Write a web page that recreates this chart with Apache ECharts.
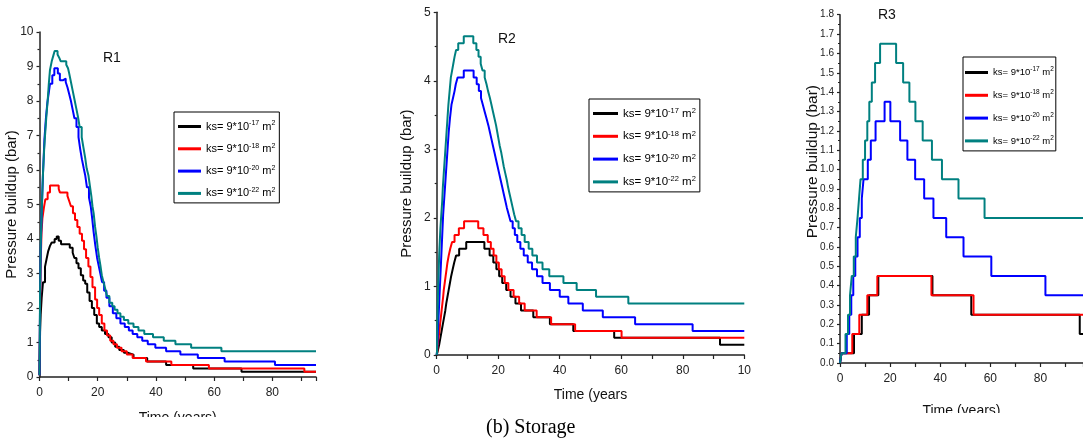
<!DOCTYPE html>
<html>
<head>
<meta charset="utf-8">
<script src="https://cdn.jsdelivr.net/npm/echarts@6/dist/echarts.min.js"></script>
<style>html,body{margin:0;padding:0;background:#fff}#c{width:1083px;height:443px}</style>
</head>
<body>
<div id="c"></div>
<script>
// ---- categories / labels ----
const exps = ['-17', '-18', '-20', '-22'];
const seriesNames = exps.map(e => 'ks= 9*10^' + e + ' m^2');
const colors = ['#000000', '#ff0000', '#0000ff', '#008080'];
const panelTitles = ['R1', 'R2', 'R3'];
const r2XLabels = {0: '0', 20: '20', 40: '40', 60: '60', 80: '80', 100: '10'};

// ---- R1 (step points: [time, level]) ----
const r1Black = [[0,0.05],[0.1,0.8],[0.2,1.3],[0.4,1.8],[0.75,2.3],[1.2,2.75],[1.9,3.2],[2.5,3.45],[3.0,3.65],[3.6,3.8],[4.2,3.9],[5.2,4.0],[5.9,4.07],[6.6,3.95],[7.4,3.85],[10.4,3.75],[11.4,3.6],[12.0,3.45],[12.7,3.3],[13.4,3.15],[14.2,2.95],[15.0,2.8],[15.7,2.7],[16.4,2.45],[17.2,2.2],[18.0,2.0],[18.8,1.8],[19.7,1.55],[20.5,1.45],[21.4,1.35],[22.5,1.25],[23.7,1.15],[24.8,1.0],[26.0,0.88],[27.4,0.78],[29.0,0.7],[30.5,0.65],[32.3,0.55],[37.0,0.45],[43.5,0.35],[52.8,0.25],[69.4,0.15],[95,0.15]];
const r1Red = [[0,0.05],[0.2,2.0],[0.4,3.3],[0.7,4.2],[1.0,4.6],[1.5,4.9],[2.0,5.15],[2.8,5.35],[3.6,5.55],[6.6,5.45],[7.0,5.35],[9.6,5.25],[10.2,5.1],[10.8,4.95],[11.5,4.75],[12.2,4.55],[13.0,4.35],[13.8,4.15],[14.6,3.95],[15.3,3.7],[16.0,3.45],[16.8,3.2],[17.5,2.9],[18.2,2.6],[19.1,2.25],[19.8,2.0],[20.5,1.8],[21.4,1.55],[22.3,1.35],[23.2,1.2],[24.3,1.05],[25.4,0.95],[26.6,0.85],[28.2,0.75],[30.0,0.65],[32.0,0.55],[36.6,0.45],[45.3,0.35],[58.2,0.25],[91,0.15],[95,0.15]];
const r1Blue = [[0,0.05],[0.2,2.3],[0.4,3.6],[0.8,4.9],[1.2,5.9],[1.7,6.9],[2.2,7.5],[2.7,7.95],[3.2,8.25],[3.6,8.5],[4.4,8.75],[5.1,8.95],[6.3,8.8],[7.0,8.6],[8.0,8.65],[9.0,8.55],[9.6,8.4],[10.2,8.2],[10.8,8.0],[11.4,7.75],[12.0,7.5],[12.7,7.25],[13.4,6.95],[14.0,6.6],[14.6,6.3],[15.2,6.05],[15.7,5.85],[16.3,5.5],[17.0,5.2],[17.6,4.95],[18.1,4.6],[18.6,4.2],[19.2,3.8],[19.8,3.45],[20.4,3.2],[20.9,3.0],[21.5,2.75],[22.2,2.5],[23.0,2.3],[24.0,2.05],[25.2,1.85],[26.4,1.7],[27.8,1.55],[29.3,1.45],[30.7,1.35],[32.0,1.25],[33.6,1.15],[35.3,1.05],[37.2,0.95],[39.8,0.85],[43.5,0.75],[48.4,0.65],[54.4,0.55],[63.6,0.45],[80.9,0.35],[95,0.35]];
const r1Teal = [[0,0.05],[0.2,2.5],[0.4,3.8],[0.8,4.9],[1.2,5.9],[1.6,6.6],[1.9,7.0],[2.4,7.6],[2.8,8.0],[3.2,8.5],[3.6,8.9],[4.2,9.15],[4.8,9.33],[5.2,9.45],[6.2,9.35],[6.8,9.25],[7.3,9.15],[9.2,9.05],[9.8,8.95],[10.2,8.8],[10.8,8.55],[11.4,8.3],[12.0,8.05],[12.6,7.8],[13.2,7.55],[13.8,7.25],[14.5,6.95],[15.1,6.65],[15.7,6.35],[16.2,6.05],[16.8,5.85],[17.3,5.55],[17.8,5.25],[18.2,4.95],[18.6,4.75],[19.1,4.35],[19.6,4.05],[20.0,3.75],[20.5,3.45],[20.9,3.25],[21.4,2.95],[22.0,2.75],[22.6,2.55],[23.2,2.35],[24.0,2.15],[25.0,2.05],[25.8,1.95],[26.8,1.85],[27.8,1.75],[29.0,1.65],[30.5,1.55],[32.3,1.45],[34.0,1.35],[36.0,1.25],[39.0,1.15],[42.7,1.05],[46.7,0.95],[52.1,0.85],[62.5,0.75],[95,0.75]];

// ---- R2 ----
const r2Black = [[0,0],[0.3,0.05],[0.8,0.15],[1.2,0.25],[1.6,0.35],[2.0,0.45],[2.4,0.55],[2.8,0.65],[3.1,0.75],[3.5,0.85],[3.9,0.95],[4.3,1.05],[4.7,1.15],[5.2,1.25],[5.7,1.35],[6.3,1.45],[7.3,1.55],[9.6,1.65],[15.5,1.55],[17.2,1.45],[18.4,1.35],[19.4,1.25],[20.3,1.15],[21.3,1.05],[22.6,0.95],[24.0,0.85],[25.6,0.75],[27.4,0.65],[31.4,0.55],[36.8,0.45],[44.4,0.35],[57.7,0.25],[92.1,0.15],[100,0.15]];
const r2Red = [[0,0],[0.2,0.05],[0.3,0.15],[0.6,0.25],[0.9,0.35],[1.1,0.45],[1.35,0.55],[1.6,0.65],[1.85,0.75],[2.1,0.85],[2.3,0.95],[2.6,1.05],[2.9,1.15],[3.2,1.25],[3.5,1.35],[3.9,1.45],[4.4,1.55],[5.0,1.65],[5.8,1.75],[7.2,1.85],[8.9,1.95],[13.5,1.85],[15.2,1.75],[16.6,1.65],[17.6,1.55],[18.5,1.45],[19.4,1.35],[20.2,1.25],[21.1,1.15],[22.1,1.05],[23.3,0.95],[25.0,0.85],[26.8,0.75],[28.6,0.65],[32.5,0.55],[37.2,0.45],[45.0,0.35],[60.1,0.25],[100,0.25]];
const r2Blue = [[0,0],[0.1,0.05],[0.3,0.25],[0.6,0.55],[0.9,0.85],[1.2,1.15],[1.5,1.45],[1.8,1.75],[2.1,2.05],[2.4,2.25],[2.7,2.45],[3.0,2.65],[3.3,2.85],[3.6,3.05],[3.9,3.25],[4.3,3.45],[4.8,3.65],[5.3,3.75],[5.8,3.85],[6.2,3.95],[6.8,4.05],[8.8,4.15],[12.0,4.05],[13.0,3.95],[13.7,3.85],[14.4,3.75],[15.0,3.65],[15.6,3.55],[16.2,3.45],[16.8,3.35],[17.3,3.25],[17.8,3.15],[18.3,3.05],[18.8,2.95],[19.3,2.85],[19.8,2.75],[20.3,2.65],[20.8,2.55],[21.3,2.45],[21.8,2.35],[22.3,2.25],[22.8,2.15],[23.4,2.05],[24.0,1.95],[24.7,1.85],[25.4,1.75],[26.2,1.65],[27.2,1.55],[28.3,1.45],[29.6,1.35],[31.0,1.25],[32.6,1.15],[34.4,1.05],[36.8,0.95],[40.0,0.85],[42.8,0.75],[47.5,0.65],[54.0,0.55],[64.5,0.45],[83.2,0.35],[100,0.35]];
const r2Teal = [[0,0],[0.1,0.05],[0.2,0.45],[0.4,0.85],[0.6,1.15],[0.8,1.45],[1.0,1.65],[1.2,1.85],[1.5,2.05],[1.8,2.25],[2.0,2.45],[2.3,2.65],[2.6,2.85],[2.9,3.05],[3.2,3.25],[3.5,3.45],[3.8,3.65],[4.2,3.85],[4.6,4.05],[5.0,4.15],[5.4,4.25],[5.8,4.35],[6.3,4.45],[7.0,4.55],[8.8,4.65],[11.9,4.55],[12.9,4.45],[13.6,4.35],[14.3,4.25],[14.9,4.15],[15.6,4.05],[16.2,3.95],[16.7,3.85],[17.3,3.75],[17.8,3.65],[18.3,3.55],[18.8,3.45],[19.3,3.35],[19.7,3.25],[20.1,3.15],[20.5,3.05],[21.0,2.95],[21.4,2.85],[21.8,2.75],[22.3,2.65],[22.8,2.55],[23.2,2.45],[23.7,2.35],[24.2,2.25],[24.7,2.15],[25.2,2.05],[25.8,1.95],[26.6,1.85],[27.6,1.75],[28.6,1.65],[29.9,1.55],[31.1,1.45],[32.6,1.35],[34.4,1.25],[36.6,1.15],[41.2,1.05],[45.5,0.95],[51.8,0.85],[62.3,0.75],[100,0.75]];

// ---- R3 ----
const r3Black = [[0,0],[0.6,0.05],[5.6,0.15],[8.7,0.25],[11.6,0.35],[15.3,0.45],[36.9,0.35],[52.4,0.25],[95.7,0.15],[97,0.15]];
const r3Red = [[0,0],[0.6,0.05],[4.9,0.15],[7.7,0.25],[10.9,0.35],[14.9,0.45],[36.5,0.35],[53.3,0.25],[97,0.25]];
const r3Blue = [[0,0],[0.6,0.05],[2.7,0.15],[3.7,0.25],[4.5,0.35],[5.3,0.45],[6.1,0.55],[7.0,0.65],[7.9,0.75],[8.7,0.85],[9.4,0.95],[11.1,1.05],[12.3,1.15],[14.2,1.25],[17.8,1.35],[20.1,1.25],[24.0,1.15],[26.9,1.05],[30.0,0.95],[33.6,0.85],[37.3,0.75],[42.4,0.65],[49.3,0.55],[60.4,0.45],[82.0,0.35],[97,0.35]];
const r3Teal = [[0,0],[0.6,0.05],[2.2,0.15],[3.2,0.25],[4.0,0.35],[4.7,0.45],[5.5,0.55],[6.3,0.65],[7.0,0.75],[7.6,0.85],[8.2,0.95],[9.1,1.05],[10.0,1.15],[10.9,1.25],[11.7,1.35],[12.7,1.45],[14.0,1.55],[16.0,1.65],[22.4,1.55],[25.2,1.45],[27.7,1.35],[30.1,1.25],[33.0,1.15],[36.7,1.05],[40.7,0.95],[47.3,0.85],[57.7,0.75],[97,0.75]];

const panelData = [
  [r1Black, r1Red, r1Blue, r1Teal],
  [r2Black, r2Red, r2Blue, r2Teal],
  [r3Black, r3Red, r3Blue, r3Teal]
];

const SANS = "'Liberation Sans',Arial,sans-serif";
const AX = '#222';

const grids = [
  {left: 39.5, right: 767, top: 32, bottom: 66},
  {left: 436.7, right: 338.7, top: 12.3, bottom: 88},
  {left: 840, right: 0, top: 14.7, bottom: 80}
];

function xAxis(i, max, name, nameGap, fmt) {
  return {
    gridIndex: i, type: 'value', min: 0, max: max, interval: 20,
    axisLine: {show: true, onZero: false, lineStyle: {color: AX, width: 1.5}},
    axisTick: {show: true, length: 4, lineStyle: {color: AX, width: 1.2}},
    minorTick: {show: true, splitNumber: 2, length: 4, lineStyle: {color: AX, width: 1.2}},
    splitLine: {show: false},
    axisLabel: {margin: 10, fontSize: 12, color: '#222', fontFamily: SANS, showMaxLabel: fmt ? true : false, formatter: fmt},
    name: name, nameLocation: 'middle', nameGap: nameGap, nameMoveOverlap: false,
    nameTextStyle: {fontSize: 14, color: '#111', fontFamily: SANS}
  };
}
function yAxis(i, max, interval, fontSize, fmt, showName, gap) {
  return {
    gridIndex: i, type: 'value', min: 0, max: max, interval: interval,
    axisLine: {show: true, lineStyle: {color: AX, width: 1.5}},
    axisTick: {show: true, length: 3, lineStyle: {color: AX, width: 1.2}},
    minorTick: {show: true, splitNumber: 2, length: 2, lineStyle: {color: AX, width: 1.2}},
    splitLine: {show: false},
    axisLabel: {margin: 6, fontSize: fontSize, color: '#222', fontFamily: SANS, formatter: fmt},
    name: showName ? 'Pressure buildup (bar)' : '', nameLocation: 'middle', nameGap: gap, nameMoveOverlap: false,
    nameTextStyle: {fontSize: 15, color: '#111', fontFamily: SANS}
  };
}

const legendCfg = [
  {left: 174, top: 112, fs: 11, sup: 7, iw: 23, gap: 10.3, pad: [8, 4, 4, 4]},
  {left: 589, top: 99, fs: 11.5, sup: 7.5, iw: 25, gap: 10.3, pad: [8, 4, 4, 4]},
  {left: 963, top: 57, fs: 9.5, sup: 6.5, iw: 23, gap: 11.3, pad: [9, 2, 5, 2]}
];
const legends = legendCfg.map(p => ({
  left: p.left, top: p.top, orient: 'vertical',
  borderColor: '#000', borderWidth: 1, padding: p.pad,
  itemGap: p.gap, itemWidth: p.iw, itemHeight: 3, icon: 'rect',
  data: seriesNames,
  formatter: n => {
    const e = n.split('^')[1].split(' ')[0];
    return '{t|ks= 9*10}{s|' + e + '}{t| m}{s|2}';
  },
  textStyle: {
    rich: {
      t: {fontSize: p.fs, fontFamily: SANS, color: '#000', lineHeight: 13},
      s: {fontSize: p.sup, fontFamily: SANS, color: '#000', lineHeight: 7, verticalAlign: 'top'}
    }
  },
  selectedMode: false
}));

const series = [];
panelData.forEach((arr, p) => {
  arr.forEach((d, k) => {
    series.push({
      type: 'line', name: seriesNames[k], xAxisIndex: p, yAxisIndex: p,
      data: d, step: 'end', symbol: 'none', showSymbol: false, clip: true,
      lineStyle: {color: colors[k], width: 2},
      itemStyle: {color: colors[k]},
      animation: false
    });
  });
});

const titleStyle = {fontSize: 14, fontWeight: 'normal', color: '#111', fontFamily: SANS};
const chart = echarts.init(document.getElementById('c'), null, {renderer: 'canvas'});
chart.setOption({
  backgroundColor: '#fff',
  animation: false,
  title: [
    {text: panelTitles[0], left: 103, top: 51, padding: 0, textStyle: titleStyle},
    {text: panelTitles[1], left: 498, top: 32, padding: 0, textStyle: titleStyle},
    {text: panelTitles[2], left: 878, top: 8, padding: 0, textStyle: titleStyle},
    {text: '(b) Storage', left: 486, top: 418, padding: 0, textStyle: {fontSize: 20, fontWeight: 'normal', color: '#000', fontFamily: "'Liberation Serif','Times New Roman',serif"}}
  ],
  grid: grids,
  xAxis: [
    xAxis(0, 95, 'Time (years)', 34),
    xAxis(1, 100, 'Time (years', 33, v => r2XLabels[v] !== undefined ? r2XLabels[v] : ''),
    xAxis(2, 97, 'Time (years)', 41)
  ],
  yAxis: [
    yAxis(0, 10, 1, 12, v => String(Math.round(v)), true, 20),
    yAxis(1, 5, 1, 12, v => String(Math.round(v)), true, 22),
    yAxis(2, 1.8, 0.1, 10, v => v.toFixed(1), false, 24)
  ],
  legend: legends,
  graphic: [
    {type: 'text', left: 805, top: 85, rotation: Math.PI / 2, z: 50,
     style: {text: 'Pressure buildup (bar)', font: "15.5px 'Liberation Sans', Arial, sans-serif", fill: '#111'}},
    {type: 'rect', shape: {x: 0, y: 417, width: 330, height: 26}, style: {fill: '#fff'}, z: 100},
    {type: 'rect', shape: {x: 790, y: 413, width: 293, height: 30}, style: {fill: '#fff'}, z: 100}
  ],
  series: series
});
</script>
</body>
</html>
